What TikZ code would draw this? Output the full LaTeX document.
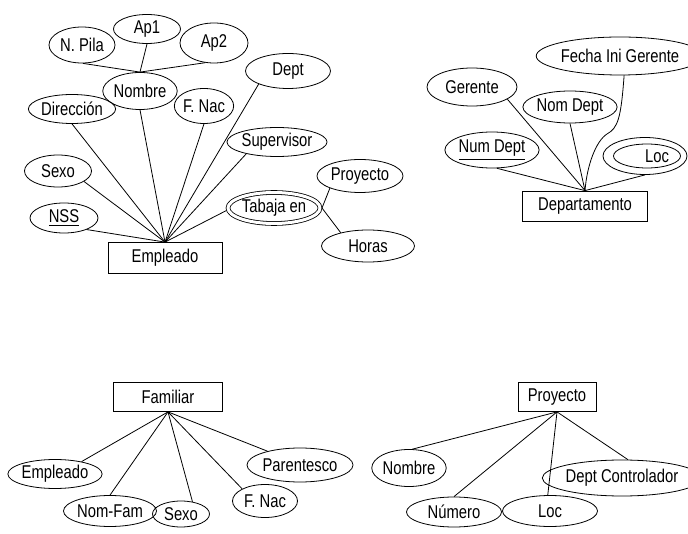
\documentclass[tikz,border=0pt]{standalone}
\usepackage{amsmath}
\usepackage{fontspec}
\setmainfont{Liberation Sans}[FakeStretch=0.8]
\usepackage{tikz}
\usetikzlibrary{shapes.geometric}

\tikzset{
	attr/.style={draw, ellipse, inner sep=0pt, line width=0.8pt},
	multi/.style={attr, double, double distance=3pt, outer sep=2pt},
	entity/.style={draw, rectangle, inner sep=0pt, line width=0.8pt},
	link/.style={line width=0.8pt}
}

\begin{document}
\begin{tikzpicture}[x=1pt, y=-1pt, font=\fontsize{18.5}{20}\selectfont]
		\begingroup
		\useasboundingbox (0,0) rectangle (688,534);
		
		\node[entity, minimum width=114pt, minimum height=31pt] (emp) at (165,258) {Empleado};
		\node[attr, minimum width=66pt, minimum height=36pt] (pila) at (82,45) {N. Pila};
		\node[attr, minimum width=67pt, minimum height=29pt] (ap1) at (147,29) {Ap1};
		\node[attr, minimum width=68pt, minimum height=40pt] (ap2) at (214,43) {Ap2};
		\node[attr, minimum width=68pt, minimum height=37pt] (nombre) at (140,91) {Nombre};
		\node[attr, minimum width=73pt, minimum height=29pt] (dir) at (72,109) {Dirección};
		\node[attr, minimum width=59pt, minimum height=35pt] (fnac) at (204,106) {F. Nac};
		\node[attr, minimum width=85pt, minimum height=35pt] (dept) at (288,71) {Dept};
		\node[attr, minimum width=87pt, minimum height=29pt] (superv) at (277,142) {Supervisor};
		\node[attr, minimum width=67pt, minimum height=32pt] (sexo) at (58,171) {Sexo};
		\node[attr, minimum width=68pt, minimum height=30pt] (nss) at (64,218) {\underline{NSS}};
		\node[multi, minimum width=92pt, minimum height=31pt] (trab) at (274,208) {Tabaja en};
		\node[attr, minimum width=86pt, minimum height=33pt] (proy) at (360,176) {Proyecto};
		\node[attr, minimum width=93pt, minimum height=32pt] (horas) at (368,246) {Horas};
		
		\draw[link] (pila.273) -- (nombre.north);
		\draw[link] (ap1.south) -- (nombre.north);
		\draw[link] (ap2.246) -- (nombre.north);
		\draw[link] (nombre.south) -- (emp.north);
		\draw[link] (dir.south) -- (emp.north);
		\draw[link] (fnac.south) -- (emp.north);
		\draw[link] (dept.204) -- (emp.north);
		\draw[link] (superv.201) -- (emp.north);
		\draw[link] (sexo.338) -- (emp.north);
		\draw[link] (nss.333) -- (emp.north);
		\draw[link] (trab.183) -- (emp.north);
		\draw[link] (proy.202) -- (trab.east);
		\draw[link] (trab.east) -- (horas.154);
		
		\node[entity, minimum width=125pt, minimum height=30pt] (dep) at (585,206) {Departamento};
		\node[attr, minimum width=90pt, minimum height=38pt] (ger) at (472,87) {Gerente};
		\node[attr, minimum width=90pt, minimum height=32pt] (nomdep) at (570,107) {Nom Dept};
		\node[attr, minimum width=132pt, minimum height=38pt] (fig) at (620,56) {Fecha Ini Gerente};
		\node[attr, minimum width=91pt, minimum height=36pt] (numdep) at (492,150) {\underline{Num Dept}};
		\node[attr, minimum width=84pt, minimum height=37pt] (locd) at (645,156) {};
		\node[attr, minimum width=67pt, minimum height=24pt] (locin) at (647,156) {};
		\node (loctxt) at (657,156) {Loc};
		
		\draw[link] (ger.341) -- (dep.north);
		\draw[link] (nomdep.south) -- (dep.north);
		\draw[link] (numdep.285) -- (dep.north);
		\draw[link] (locd.south) -- (dep.north);
		\draw[link] (fig.282) .. controls (621,118) and (618,128) .. (607,134) .. controls (596,141) and (587,165) .. (dep.north);
		
		\node[entity, minimum width=109pt, minimum height=29pt] (fam) at (168,397) {Familiar};
		\node[attr, minimum width=84pt, minimum height=29pt] (femp) at (55,474) {Empleado};
		\node[attr, minimum width=86pt, minimum height=31pt] (nomfam) at (110,511) {Nom-Fam};
		\node[attr, minimum width=57pt, minimum height=26pt] (fsexo) at (181,514) {Sexo};
		\node[attr, minimum width=65pt, minimum height=33pt] (ffnac) at (265,501) {F. Nac};
		\node[attr, minimum width=106pt, minimum height=34pt] (paren) at (300,465) {Parentesco};
		
		\draw[link] (femp.25) -- (fam.south);
		\draw[link] (nomfam.north) -- (fam.south);
		\draw[link] (fsexo.47) -- (fam.south);
		\draw[link] (ffnac.152) -- (fam.south);
		\draw[link] (paren.157) -- (fam.south);
		
		\node[entity, minimum width=78pt, minimum height=29pt] (pro) at (557,397) {Proyecto};
		\node[attr, minimum width=68pt, minimum height=37pt] (pnom) at (409,468) {Nombre};
		\node[attr, minimum width=95pt, minimum height=30pt] (pnum) at (454,512) {Número};
		\node[attr, minimum width=95pt, minimum height=31pt] (ploc) at (550,511) {Loc};
		\node[attr, minimum width=126pt, minimum height=36pt] (pdc) at (622,478) {Dept Controlador};
		
		\draw[link] (pnom.80) -- (pro.south);
		\draw[link] (pnum.north) -- (pro.south);
		\draw[link] (ploc.98) -- (pro.south);
		\draw[link] (pdc.72) -- (pro.south);
		\endgroup
\end{tikzpicture}
\end{document}
